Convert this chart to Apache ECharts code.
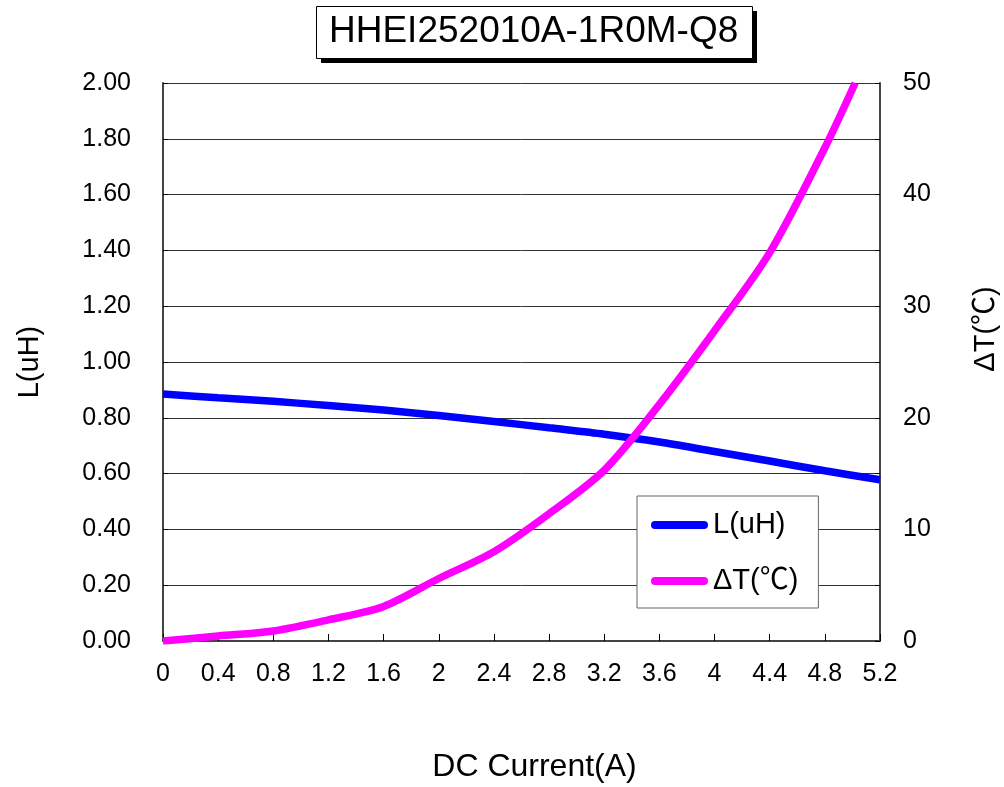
<!DOCTYPE html>
<html>
<head>
<meta charset="utf-8">
<script src="https://cdn.jsdelivr.net/npm/echarts@6/dist/echarts.min.js"></script>
<style>
    html, body { margin: 0; padding: 0; background: #fff; }
    #chart { width: 1004px; height: 787px; }
</style>
</head>
<body>
<div id="chart"></div>
<script>
// values
const currentA = [0, 0.4, 0.8, 1.2, 1.6, 2.0, 2.4, 2.8, 3.2, 3.6, 4.0, 4.4, 4.8, 5.2];
const inductance = [0.885, 0.872, 0.859, 0.844, 0.828, 0.808, 0.787, 0.764, 0.741, 0.713, 0.679, 0.645, 0.610, 0.578];
const tempCurrent = [0, 0.4, 0.8, 1.2, 1.6, 2.0, 2.4, 2.8, 3.2, 3.6, 4.0, 4.4, 4.8, 5.02];
const tempRise = [0, 0.45, 0.9, 1.9, 3.1, 5.6, 8.0, 11.4, 15.3, 21.2, 27.8, 34.8, 44.2, 50];
const seriesNames = ['L(uH)', 'ΔT(℃)'];

const FONT = 'Liberation Sans, Arial, Noto Sans CJK SC, sans-serif';

function pairs(xs, ys) {
    return xs.map((x, i) => [x, ys[i]]);
}

const chart = echarts.init(document.getElementById('chart'));
chart.setOption({
    backgroundColor: '#fff',
    animation: false,
    // title frame with its hard black shadow
    graphic: [
        { type: 'rect', left: 321, top: 11, shape: { width: 436, height: 52 }, style: { fill: '#000' } },
        { type: 'rect', left: 316, top: 6, shape: { width: 436, height: 52 }, style: { fill: '#fff', stroke: '#000', lineWidth: 1 } }
    ],
    title: {
        text: 'HHEI252010A-1R0M-Q8',
        left: 316,
        top: 6,
        padding: [7, 13, 7, 13],
        textStyle: {
            fontFamily: FONT,
            fontSize: 37,
            fontWeight: 'normal',
            color: '#000',
            lineHeight: 38
        }
    },
    legend: {
        data: seriesNames,
        orient: 'vertical',
        left: 637,
        top: 496,
        padding: [12, 20, 10, 14],
        itemGap: 22,
        itemWidth: 57,
        itemHeight: 8,
        icon: 'path://M4,0 H53 A4,4 0 0 1 53,8 H4 A4,4 0 0 1 4,0 Z',
        backgroundColor: '#fff',
        borderColor: '#666',
        borderWidth: 1,
        borderRadius: 0,
        textStyle: {
            fontFamily: FONT,
            fontSize: 29,
            color: '#000',
            lineHeight: 34
        }
    },
    grid: {
        left: 163,
        right: 124,
        top: 83,
        bottom: 146,
        outerBoundsMode: 'none'
    },
    xAxis: {
        type: 'value',
        min: 0,
        max: 5.2,
        interval: 0.4,
        name: 'DC Current(A)',
        nameLocation: 'middle',
        nameGap: 110,
        nameTextStyle: { fontFamily: FONT, fontSize: 32, color: '#000', padding: [0, 0, 0, 26] },
        axisLine: { lineStyle: { color: '#444', width: 2 } },
        axisTick: { inside: true, length: 7, lineStyle: { color: '#000', width: 1 } },
        axisLabel: { margin: 21, fontFamily: FONT, fontSize: 25, color: '#000' },
        splitLine: { show: false }
    },
    yAxis: [
        {
            type: 'value',
            min: 0,
            max: 2,
            interval: 0.2,
            name: 'L(uH)',
            nameLocation: 'middle',
            nameGap: 118,
            nameTextStyle: { fontFamily: FONT, fontSize: 29, color: '#000' },
            axisLine: { show: true, lineStyle: { color: '#444', width: 2 } },
            axisTick: { show: true, inside: true, length: 5, lineStyle: { color: '#000' } },
            axisLabel: {
                margin: 32,
                fontFamily: FONT,
                fontSize: 25,
                color: '#000',
                formatter: v => v.toFixed(2)
            },
            splitLine: { show: true, lineStyle: { color: '#333', width: 1 } }
        },
        {
            type: 'value',
            min: 0,
            max: 50,
            interval: 10,
            position: 'right',
            name: 'ΔT(℃)',
            nameLocation: 'middle',
            nameGap: 91,
            nameTextStyle: { fontFamily: FONT, fontSize: 29, color: '#000', padding: [0, 0, 0, 66] },
            axisLine: { show: true, lineStyle: { color: '#444', width: 2 } },
            axisTick: { show: true, inside: true, length: 5, lineStyle: { color: '#000' } },
            minorTick: { show: true, splitNumber: 2, length: 5, lineStyle: { color: '#000' } },
            axisLabel: { margin: 23, fontFamily: FONT, fontSize: 25, color: '#000' },
            splitLine: { show: false }
        }
    ],
    series: [
        {
            name: seriesNames[0],
            type: 'line',
            yAxisIndex: 0,
            smooth: 0.3,
            showSymbol: false,
            data: pairs(currentA, inductance),
            itemStyle: { color: '#0000ff' },
            lineStyle: { color: '#0000ff', width: 7.5 }
        },
        {
            name: seriesNames[1],
            type: 'line',
            yAxisIndex: 1,
            smooth: 0.3,
            showSymbol: false,
            data: pairs(tempCurrent, tempRise),
            itemStyle: { color: '#ff00ff' },
            lineStyle: { color: '#ff00ff', width: 7.5 }
        }
    ]
});
</script>
</body>
</html>
